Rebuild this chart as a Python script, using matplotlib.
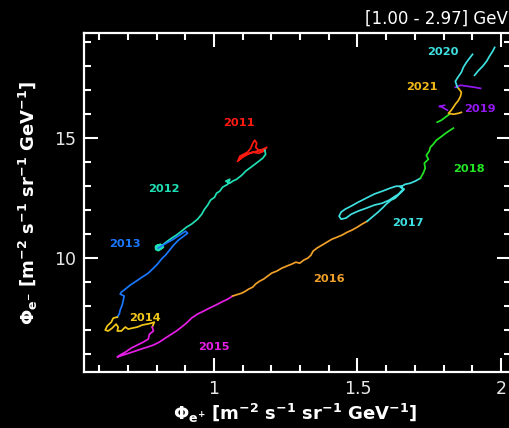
import numpy as np
import matplotlib
matplotlib.use("Agg")
import matplotlib.pyplot as plt
from matplotlib.ticker import MultipleLocator

nan = np.nan

# ---- data ----
years = ["2011", "2012", "2013", "2014", "2015", "2016", "2017", "2018", "2019", "2020", "2021"]
colors = ["#ff1a10", "#1fe0b4", "#1a78ff", "#f2c81a", "#e61ee6", "#f0a028",
          "#3fe0e0", "#22e622", "#9418f0", "#3fe0e0", "#f2b81a"]

x2011 = [1.083, 1.090, 1.103, 1.117, 1.128, 1.135, 1.142, 1.149, 1.145, 1.156, 1.170, 1.184,
         1.173, 1.156, 1.135, 1.117, 1.100, 1.086, 1.100, 1.124, 1.149, 1.177]
y2011 = [14.04, 14.25, 14.33, 14.42, 14.58, 14.79, 14.92, 14.79, 14.625, 14.5, 14.54, 14.625,
         14.46, 14.375, 14.42, 14.33, 14.21, 14.08, 14.25, 14.375, 14.46, 14.5]

x2012 = [1.177, 1.180, 1.170, 1.156, 1.138, 1.124, 1.110, 1.097, 1.079, 1.065, 1.055, 1.041,
         1.055, 1.048, 1.030, 1.020, 1.009, 1.002, 0.988, 0.978, 0.967, 0.957, 0.943, 0.922,
         0.904, 0.887, 0.869, 0.852, 0.838, 0.824, 0.813, 0.803, 0.799, 0.813, 0.824, 0.806,
         0.799, 0.810, 0.820, 0.815, 0.812, 0.803, 0.796, 0.797, 0.806, 0.815, 0.810, 0.800,
         0.806]
y2012 = [14.5, 14.33, 14.17, 14.04, 13.875, 13.75, 13.625, 13.46, 13.29, 13.21, 13.125, 13.21,
         13.29, 13.08, 12.96, 12.79, 12.71, 12.54, 12.42, 12.21, 12.04, 11.83, 11.625, 11.42,
         11.29, 11.125, 10.96, 10.83, 10.71, 10.58, 10.46, 10.375, 10.5, 10.58, 10.46, 10.33,
         10.46, 10.54, 10.42, 10.42, 10.52, 10.55, 10.48, 10.36, 10.31, 10.38, 10.47, 10.44,
         10.42]

x2013 = [0.806, 0.834, 0.859, 0.880, 0.901, 0.908, 0.890, 0.876, 0.859, 0.845, 0.831, 0.817,
         0.803, 0.789, 0.771, 0.750, 0.729, 0.708, 0.691, 0.677, 0.673, 0.687, 0.684, 0.680,
         0.673, 0.670, 0.663]
y2013 = [10.42, 10.625, 10.79, 10.96, 11.125, 11.04, 10.875, 10.75, 10.54, 10.33, 10.125, 9.96,
         9.75, 9.58, 9.375, 9.21, 9.04, 8.875, 8.71, 8.58, 8.5, 8.42, 8.25, 8.04,
         7.83, 7.67, 7.54]

x2014 = [0.663, 0.649, 0.642, 0.628, 0.621, 0.631, 0.645, 0.659, 0.666, 0.663, 0.677, 0.691,
         0.701, 0.715, 0.733, 0.750, 0.768, 0.782, 0.792, 0.785]
y2014 = [7.54, 7.5, 7.33, 7.17, 7.0, 6.96, 7.08, 7.25, 7.125, 6.96, 6.96, 7.125,
         7.04, 7.08, 7.125, 7.21, 7.25, 7.29, 7.33, 7.125]

x2015 = [0.785, 0.789, 0.775, 0.771, 0.754, 0.733, 0.712, 0.691, 0.673, 0.663, 0.684, 0.705,
         0.726, 0.747, 0.768, 0.789, 0.810, 0.831, 0.852, 0.869, 0.887, 0.904, 0.922, 0.943,
         0.964, 0.985, 1.006, 1.027, 1.048, 1.065]
y2015 = [7.125, 6.96, 6.83, 6.625, 6.5, 6.375, 6.25, 6.08, 5.96, 5.875, 5.96, 6.04,
         6.125, 6.21, 6.29, 6.375, 6.5, 6.67, 6.83, 6.96, 7.125, 7.29, 7.5, 7.67,
         7.79, 7.92, 8.04, 8.17, 8.29, 8.42]

x2016 = [1.065, 1.097, 1.110, 1.121, 1.135, 1.145, 1.159, 1.173, 1.187, 1.201, 1.219, 1.236,
         1.254, 1.271, 1.285, 1.299, 1.313, 1.327, 1.338, 1.345, 1.359, 1.376, 1.394, 1.411,
         1.429, 1.446, 1.464, 1.481, 1.499, 1.516, 1.534]
y2016 = [8.42, 8.54, 8.625, 8.71, 8.79, 8.92, 9.04, 9.125, 9.25, 9.375, 9.46, 9.58,
         9.67, 9.75, 9.83, 9.79, 9.92, 10.0, 10.125, 10.29, 10.42, 10.54, 10.67, 10.79,
         10.875, 10.96, 11.08, 11.17, 11.29, 11.42, 11.54]

x2017 = [1.534, 1.551, 1.572, 1.590, 1.600, 1.617, 1.631, 1.642, 1.649, 1.659, 1.652, 1.635,
         1.614, 1.586, 1.558, 1.530, 1.502, 1.478, 1.457, 1.443, 1.436, 1.443, 1.460, 1.478,
         1.502, 1.530, 1.558, 1.586, 1.611, 1.631, 1.649, 1.663, 1.649, 1.666, 1.684, 1.701,
         1.719]
y2017 = [11.54, 11.71, 11.92, 12.125, 12.25, 12.42, 12.5, 12.625, 12.75, 12.875, 13.0, 13.0,
         12.92, 12.79, 12.67, 12.5, 12.33, 12.17, 12.04, 11.92, 11.75, 11.625, 11.67, 11.83,
         11.96, 12.08, 12.21, 12.29, 12.42, 12.58, 12.71, 12.875, 12.96, 13.08, 13.125, 13.21,
         13.33]

x2018 = [1.719, 1.729, 1.736, 1.733, 1.747, 1.740, 1.750, 1.754, 1.764, 1.775, 1.789, 1.803,
         1.817, 1.834, nan, 1.778, 1.792, 1.806, 1.820]
y2018 = [13.33, 13.54, 13.75, 13.96, 14.125, 14.29, 14.46, 14.625, 14.75, 14.92, 15.04, 15.17,
         15.29, 15.42, nan, 15.67, 15.75, 15.875, 16.0]

x2019 = [1.813, 1.796, 1.785, 1.803, nan, 1.841, 1.859, 1.883, 1.908, 1.929]
y2019 = [16.17, 16.29, 16.33, 16.375, nan, 17.125, 17.21, 17.17, 17.125, 17.08]

x2020 = [1.848, 1.841, 1.852, 1.862, 1.869, 1.880, 1.890, 1.901, nan,
         1.908, 1.922, 1.936, 1.950, 1.960, 1.971, 1.978]
y2020 = [17.125, 17.375, 17.58, 17.75, 17.96, 18.17, 18.33, 18.5, nan,
         17.625, 17.83, 18.0, 18.21, 18.42, 18.625, 18.79]

x2021 = [1.852, 1.862, 1.859, 1.852, 1.841, 1.834, 1.827, 1.817, 1.834, 1.852, 1.862]
y2021 = [17.08, 16.92, 16.75, 16.58, 16.42, 16.29, 16.17, 16.04, 16.0, 16.04, 16.08]

xs = [x2011, x2012, x2013, x2014, x2015, x2016, x2017, x2018, x2019, x2020, x2021]
ys = [y2011, y2012, y2013, y2014, y2015, y2016, y2017, y2018, y2019, y2020, y2021]

label_x = [1.086, 0.824, 0.691, 0.761, 0.999, 1.401, 1.674, 1.887, 1.926, 1.796, 1.723]
label_y = [15.625, 12.875, 10.58, 7.5, 6.29, 9.125, 11.46, 13.71, 16.21, 18.58, 17.125]

xticks = [1, 1.5, 2]
yticks = [10, 15]
title_text = "[1.00 - 2.97] GeV"

# ---- figure ----
plt.rcParams['font.family'] = ['DejaVu Sans']
plt.rcParams['mathtext.fontset'] = 'custom'
plt.rcParams['mathtext.rm'] = 'DejaVu Sans:bold'
plt.rcParams['mathtext.it'] = 'DejaVu Sans:bold'
plt.rcParams['mathtext.bf'] = 'DejaVu Sans:bold'

fig = plt.figure(figsize=(5.10, 4.28), dpi=100, facecolor='black')
ax = fig.add_axes([84/510, 1-372/428, (511-84)/510, (372-33)/428])
ax.set_facecolor('black')

for xv, yv, c in zip(xs, ys, colors):
    ax.plot(xv, yv, color=c, lw=1.25)

for t, lx, ly, c in zip(years, label_x, label_y, colors):
    ax.text(lx, ly, t, color=c, fontsize=8.2, fontweight='bold', ha='center', va='center')

ax.set_xlim(0.547, 2.035)
ax.set_ylim(5.25, 19.39)
ax.xaxis.set_major_locator(plt.FixedLocator(xticks))
ax.yaxis.set_major_locator(plt.FixedLocator(yticks))
ax.xaxis.set_minor_locator(MultipleLocator(0.1))
ax.yaxis.set_minor_locator(MultipleLocator(1))
ax.set_xticklabels(["1", "1.5", "2"])
ax.set_yticklabels(["10", "15"])

for s in ax.spines.values():
    s.set_color('white')
    s.set_linewidth(1.6)
ax.tick_params(which='both', direction='in', colors='white', top=True, right=True,
               labelsize=12.5, width=1.5, labelcolor='#e8e8e8')
ax.tick_params(which='major', length=10, pad=6)
ax.tick_params(which='minor', length=5)

ax.set_xlabel(r"$\Phi_{e\mathregular{^{+}}}$ [m$^{-2}$ s$^{-1}$ sr$^{-1}$ GeV$^{-1}$]",
              color='white', fontsize=13, fontweight='bold', va='center')
ax.xaxis.set_label_coords((295-84)/(511-84), (372-413)/(372-33))
ax.set_ylabel(r"$\Phi_{e\mathregular{^{-}}}$ [m$^{-2}$ s$^{-1}$ sr$^{-1}$ GeV$^{-1}$]",
              color='white', fontsize=13, fontweight='bold', va='center', ha='center')
ax.yaxis.set_label_coords((28-84)/(511-84), 0.5)

fig.text(508/510, 1-19/428, title_text, color='white', fontsize=12, ha='right', va='center')

fig.savefig("out.png", dpi=100, facecolor='black')
